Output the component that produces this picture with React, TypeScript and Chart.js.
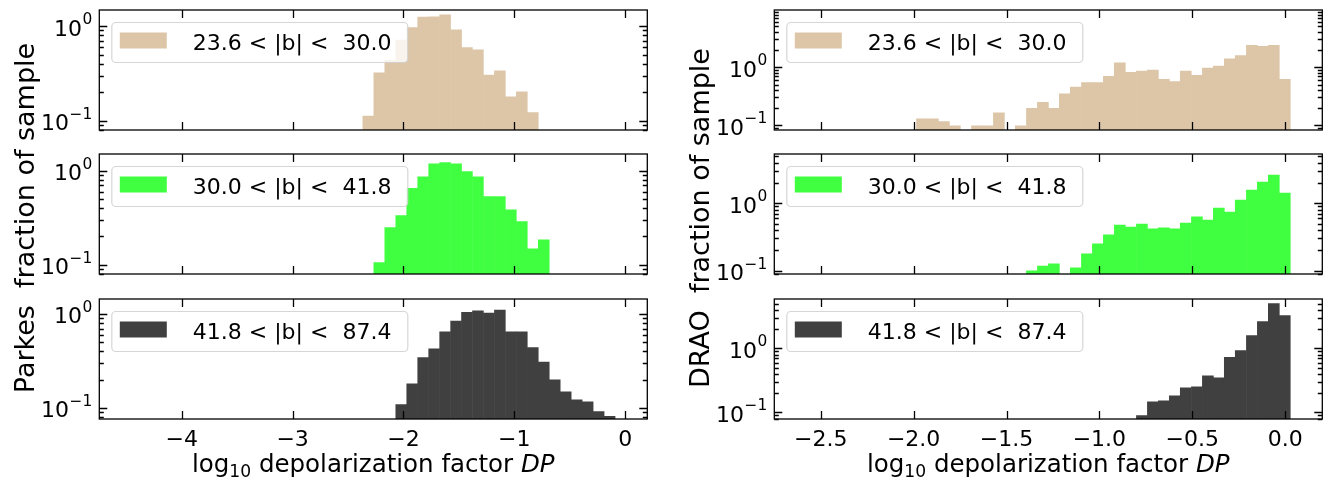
import React, { useEffect, useRef } from "react";
import { Chart, registerables } from "chart.js";
Chart.register(...registerables);

const W = 1327;
const H = 481;

// Bin centres (log10 DP) of the two histogram grids
const parkesBinCenters = [
  -2.317, -2.218, -2.119, -2.02, -1.921, -1.822, -1.723, -1.624, -1.525, -1.427, -1.328, -1.229,
  -1.13, -1.031, -0.932, -0.833, -0.734, -0.635, -0.536, -0.437, -0.338, -0.239, -0.14,
];
const draoBinCenters = [
  -1.955, -1.896, -1.837, -1.778, -1.719, -1.659, -1.6, -1.541, -1.482, -1.423, -1.363, -1.304,
  -1.245, -1.186, -1.127, -1.067, -1.008, -0.949, -0.89, -0.831, -0.771, -0.712, -0.653, -0.594,
  -0.535, -0.475, -0.416, -0.357, -0.298, -0.239, -0.179, -0.12, -0.061, -0.002,
];

// Fraction of sample per bin
const parkesLow = [
  0.112, 0.321, 0.434, 0.711, 0.96, 1.24, 1.25, 1.31, 0.91, 0.59, 0.56, 0.304, 0.337, 0.179, 0.202,
  0.122, null, null, null, null, null, null, null,
];
const parkesMid = [
  null, 0.106, 0.249, 0.333, 0.65, 0.857, 1.18, 1.22, 1.18, 0.976, 0.857, 0.53, 0.53, 0.383, 0.288,
  0.148, 0.184, null, null, null, null, null, null,
];
const parkesHigh = [
  null, null, null, 0.108, 0.18, 0.343, 0.425, 0.644, 0.843, 1.04, 1.08, 1.02, 1.1, 0.644, 0.644,
  0.438, 0.308, 0.199, 0.148, 0.122, 0.116, 0.091, 0.081,
];
const draoLow = [
  0.129, 0.129, 0.115, 0.097, null, 0.097, 0.097, 0.163, null, 0.097, 0.195, 0.246, 0.195, 0.345,
  0.454, 0.542, 0.542, 0.692, 1.18, 0.815, 0.849, 0.885, 0.612, 0.564, 0.849, 0.721, 0.96, 1.04,
  1.39, 1.57, 2.36, 2.27, 2.36, 0.612,
];
const draoMid = [
  null, null, null, null, null, null, null, null, null, null, 0.099, 0.117, 0.126, null, 0.11,
  0.177, 0.249, 0.339, 0.476, 0.445, 0.493, 0.416, 0.431, 0.416, 0.51, 0.627, 0.565, 0.851, 0.743,
  1.12, 1.57, 2.07, 2.63, 1.42,
];
const draoHigh = [
  null, null, null, null, null, null, null, null, null, null, null, null, null, null, null, null,
  null, null, null, null, 0.089, 0.147, 0.152, 0.182, 0.243, 0.252, 0.374, 0.348, 0.723, 0.92,
  1.58, 2.61, 4.99, 3.24,
];

const legendLabels = ["23.6 < |b| <  30.0", "30.0 < |b| <  41.8", "41.8 < |b| <  87.4"];
const parkesTickValues = [-4, -3, -2, -1, 0];
const parkesTickLabels = ["\u22124", "\u22123", "\u22122", "\u22121", "0"];
const draoTickValues = [-2.5, -2.0, -1.5, -1.0, -0.5, 0.0];
const draoTickLabels = ["\u22122.5", "\u22122.0", "\u22121.5", "\u22121.0", "\u22120.5", "0.0"];
const colors = ["rgb(220,198,167)", "rgb(64,255,64)", "rgb(64,64,64)"];

const FONT = "'DejaVu Sans', sans-serif";
const TICK_PX = 22;
const XLABEL_PX = 24.5;
const YLABEL_PX = 27;

type Panel = {
  centers: number[];
  values: (number | null)[];
  color: string;
  label: string;
  xMin: number;
  xMax: number;
  yMin: number;
  yMax: number;
  area: { left: number; top: number; right: number; bottom: number };
  xTicks: number[];
  xTickLabels: string[];
  bottomRow: boolean;
  yTitle?: string;
};

const colL = { left: 99.3, right: 647.3 };
const colR = { left: 774.3, right: 1322.3 };
const rows = [
  { top: 10, bottom: 130 },
  { top: 154, bottom: 274 },
  { top: 299, bottom: 419 },
];

const panels: Panel[] = [
  { centers: parkesBinCenters, values: parkesLow, color: colors[0], label: legendLabels[0], xMin: -4.744, xMax: 0.2, yMin: 0.0797, yMax: 1.476, area: { ...colL, ...rows[0] }, xTicks: parkesTickValues, xTickLabels: parkesTickLabels, bottomRow: false },
  { centers: parkesBinCenters, values: parkesMid, color: colors[1], label: legendLabels[1], xMin: -4.744, xMax: 0.2, yMin: 0.08, yMax: 1.5, area: { ...colL, ...rows[1] }, xTicks: parkesTickValues, xTickLabels: parkesTickLabels, bottomRow: false, yTitle: "Parkes  fraction of sample" },
  { centers: parkesBinCenters, values: parkesHigh, color: colors[2], label: legendLabels[2], xMin: -4.744, xMax: 0.2, yMin: 0.076, yMax: 1.445, area: { ...colL, ...rows[2] }, xTicks: parkesTickValues, xTickLabels: parkesTickLabels, bottomRow: true },
  { centers: draoBinCenters, values: draoLow, color: colors[0], label: legendLabels[0], xMin: -2.75, xMax: 0.2, yMin: 0.0825, yMax: 9.6, area: { ...colR, ...rows[0] }, xTicks: draoTickValues, xTickLabels: draoTickLabels, bottomRow: false },
  { centers: draoBinCenters, values: draoMid, color: colors[1], label: legendLabels[1], xMin: -2.75, xMax: 0.2, yMin: 0.089, yMax: 5.4, area: { ...colR, ...rows[1] }, xTicks: draoTickValues, xTickLabels: draoTickLabels, bottomRow: false, yTitle: "DRAO  fraction of sample" },
  { centers: draoBinCenters, values: draoHigh, color: colors[2], label: legendLabels[2], xMin: -2.75, xMax: 0.2, yMin: 0.079, yMax: 5.9, area: { ...colR, ...rows[2] }, xTicks: draoTickValues, xTickLabels: draoTickLabels, bottomRow: true },
];

function roundRectPath(ctx: CanvasRenderingContext2D, x: number, y: number, w: number, h: number, r: number) {
  ctx.beginPath();
  ctx.moveTo(x + r, y);
  ctx.lineTo(x + w - r, y);
  ctx.arcTo(x + w, y, x + w, y + r, r);
  ctx.lineTo(x + w, y + h - r);
  ctx.arcTo(x + w, y + h, x + w - r, y + h, r);
  ctx.lineTo(x + r, y + h);
  ctx.arcTo(x, y + h, x, y + h - r, r);
  ctx.lineTo(x, y + r);
  ctx.arcTo(x, y, x + r, y, r);
  ctx.closePath();
}

function drawDecorations(chart: any, p: Panel) {
  const ctx: CanvasRenderingContext2D = chart.ctx;
  const { left, top, right, bottom } = chart.chartArea;
  const xs = chart.scales.x;
  const ys = chart.scales.y;
  ctx.save();

  // legend
  const lx = left + 12.5, ly = top + 12.5, lw = 296, lh = 40;
  roundRectPath(ctx, lx, ly, lw, lh, 4);
  ctx.fillStyle = "rgba(255,255,255,0.8)";
  ctx.fill();
  ctx.strokeStyle = "rgba(204,204,204,0.8)";
  ctx.lineWidth = 1.2;
  ctx.stroke();
  ctx.fillStyle = p.color;
  ctx.fillRect(lx + 8, ly + 10, 47, 16);
  ctx.fillStyle = "#000";
  ctx.font = `${TICK_PX}px ${FONT}`;
  ctx.textAlign = "left";
  ctx.textBaseline = "alphabetic";
  ctx.fillText(p.label, lx + 81, ly + 27);

  // spines
  ctx.strokeStyle = "#000";
  ctx.lineWidth = 1.3;
  ctx.strokeRect(left, top, right - left, bottom - top);

  // x ticks (inward, bottom and top)
  ctx.beginPath();
  for (const v of p.xTicks) {
    const px = Math.round(xs.getPixelForValue(v)) + 0.5;
    ctx.moveTo(px, bottom);
    ctx.lineTo(px, bottom - 8);
    ctx.moveTo(px, top);
    ctx.lineTo(px, top + 8);
  }
  ctx.stroke();

  // y ticks, log
  const eMin = Math.floor(Math.log10(p.yMin));
  const eMax = Math.ceil(Math.log10(p.yMax));
  const majors: number[] = [];
  ctx.beginPath();
  for (let e = eMin; e <= eMax; e++) {
    for (let m = 1; m <= 9; m++) {
      const v = m * Math.pow(10, e);
      if (v < p.yMin || v > p.yMax) continue;
      const py = Math.round(ys.getPixelForValue(v)) + 0.5;
      const len = m === 1 ? 8 : 4.5;
      ctx.moveTo(left, py);
      ctx.lineTo(left + len, py);
      ctx.moveTo(right, py);
      ctx.lineTo(right - len, py);
      if (m === 1) majors.push(e);
    }
  }
  ctx.stroke();

  // y tick labels 10^e
  for (const e of majors) {
    const py = ys.getPixelForValue(Math.pow(10, e));
    const xr = left - 7;
    const sup = e < 0 ? "\u2212" + String(-e) : String(e);
    ctx.font = `${TICK_PX * 0.7}px ${FONT}`;
    ctx.textAlign = "right";
    const sw = ctx.measureText(sup).width;
    ctx.fillText(sup, xr, py - 2);
    ctx.font = `${TICK_PX}px ${FONT}`;
    ctx.fillText("10", xr - sw - 0.5, py + 9.5);
  }

  // x tick labels + x title
  if (p.bottomRow) {
    ctx.font = `${TICK_PX}px ${FONT}`;
    ctx.textAlign = "center";
    p.xTicks.forEach((v, i) => {
      ctx.fillText(p.xTickLabels[i], xs.getPixelForValue(v), bottom + 27);
    });
    const parts: { t: string; f: string; dy: number }[] = [
      { t: "log", f: `${XLABEL_PX}px ${FONT}`, dy: 0 },
      { t: "10", f: `${XLABEL_PX * 0.7}px ${FONT}`, dy: 5 },
      { t: " depolarization factor ", f: `${XLABEL_PX}px ${FONT}`, dy: 0 },
      { t: "DP", f: `oblique ${XLABEL_PX}px ${FONT}`, dy: 0 },
    ];
    let total = 0;
    for (const s of parts) {
      ctx.font = s.f;
      total += ctx.measureText(s.t).width;
    }
    let x = (left + right) / 2 - total / 2;
    ctx.textAlign = "left";
    for (const s of parts) {
      ctx.font = s.f;
      ctx.fillText(s.t, x, bottom + 53 + s.dy);
      x += ctx.measureText(s.t).width;
    }
  }

  // y title
  if (p.yTitle) {
    ctx.font = `${YLABEL_PX}px ${FONT}`;
    ctx.textAlign = "center";
    ctx.translate(left - 65, (top + bottom) / 2 + 4);
    ctx.rotate(-Math.PI / 2);
    ctx.fillText(p.yTitle, 0, 0);
  }
  ctx.restore();
}

function makeConfig(p: Panel): any {
  return {
    type: "bar",
    data: {
      datasets: [
        {
          label: p.label,
          data: p.centers.map((x, i) => ({ x, y: p.values[i] })),
          backgroundColor: p.color,
          borderWidth: 0,
          barPercentage: 1,
          categoryPercentage: 1,
        },
      ],
    },
    options: {
      animation: false,
      responsive: false,
      devicePixelRatio: 1,
      events: [],
      layout: {
        padding: { left: p.area.left, top: p.area.top, right: W - p.area.right, bottom: H - p.area.bottom },
      },
      plugins: { legend: { display: false }, tooltip: { enabled: false }, title: { display: false } },
      scales: {
        x: { type: "linear", min: p.xMin, max: p.xMax, offset: false, display: false },
        y: { type: "logarithmic", min: p.yMin, max: p.yMax, display: false },
      },
    },
    plugins: [
      {
        id: "decor",
        afterDraw: (chart: any) => drawDecorations(chart, p),
      },
    ],
  };
}

export default function App() {
  const refs = useRef<(HTMLCanvasElement | null)[]>([]);
  useEffect(() => {
    const charts = panels.map((p, i) => new Chart(refs.current[i] as HTMLCanvasElement, makeConfig(p)));
    return () => charts.forEach((c) => c.destroy());
  }, []);
  return (
    <div style={{ position: "fixed", left: 0, top: 0, width: W, height: H, background: "#fff" }}>
      {panels.map((p, i) => (
        <canvas
          key={i}
          ref={(el) => {
            refs.current[i] = el;
          }}
          width={W}
          height={H}
          style={{ position: "absolute", left: 0, top: 0, width: W, height: H }}
        />
      ))}
    </div>
  );
}
